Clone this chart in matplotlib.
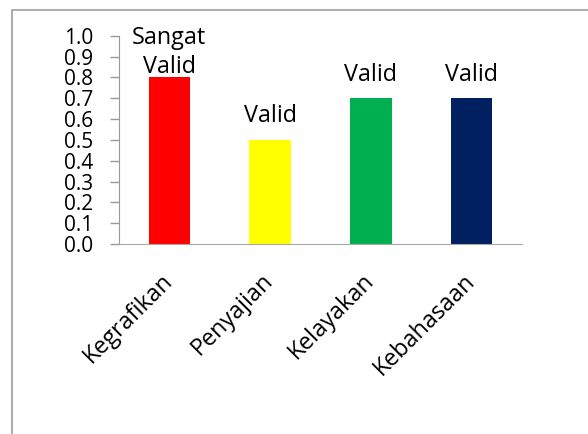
import matplotlib.pyplot as plt
from matplotlib.patches import Rectangle
from matplotlib.transforms import ScaledTranslation

categories = ["Kegrafikan", "Penyajian", "Kelayakan", "Kebahasaan"]
values = [0.8, 0.5, 0.7, 0.7]
labels = ["Sangat\nValid", "Valid", "Valid", "Valid"]
colors = ["#FF0000", "#FFFF00", "#00B050", "#002060"]
yticks = [0.0, 0.1, 0.2, 0.3, 0.4, 0.5, 0.6, 0.7, 0.8, 0.9, 1.0]

plt.rcParams["font.family"] = ["Open Sans", "DejaVu Sans"]

fig = plt.figure(figsize=(5.88, 4.34), dpi=100)
ax = fig.add_axes([119 / 588, 1 - 244 / 434, 403 / 588, 208.3 / 434])

x = list(range(len(categories)))
ax.bar(x, values, width=0.41, color=colors)

for xi, v, lab in zip(x, values, labels):
    dy = 3.2 if "\n" in lab else 12.6
    ax.annotate(lab, xy=(xi, v), xytext=(0, dy), textcoords="offset points",
                ha="center", va="baseline", fontsize=16.8, color="black",
                linespacing=1.3)

ax.set_xlim(-0.5, 3.5)
ax.set_ylim(0, 1.0)
ax.set_yticks(yticks)
ax.set_yticklabels(["%.1f" % t for t in yticks], fontsize=15)
ax.tick_params(axis="y", length=6.5, width=1, color="#999999", pad=12)
ax.set_xticks(x)
ax.set_xticklabels(categories, rotation=45, ha="right", va="baseline",
                   rotation_mode="anchor", fontsize=16.8)
ax.tick_params(axis="x", length=0, pad=27)
for lbl in ax.get_xticklabels():
    lbl.set_transform(lbl.get_transform() + ScaledTranslation(4 / 100, 0, fig.dpi_scale_trans))

for s in ["top", "right"]:
    ax.spines[s].set_visible(False)
ax.spines["left"].set_color("#999999")
ax.spines["bottom"].set_color("#A6A6A6")

fig.add_artist(Rectangle((12 / 588, -0.1), 1.2, 1.1 - 10 / 434, transform=fig.transFigure,
                         fill=False, ec="#A6A6A6", lw=1.3))

fig.savefig("out.png", dpi=100)
